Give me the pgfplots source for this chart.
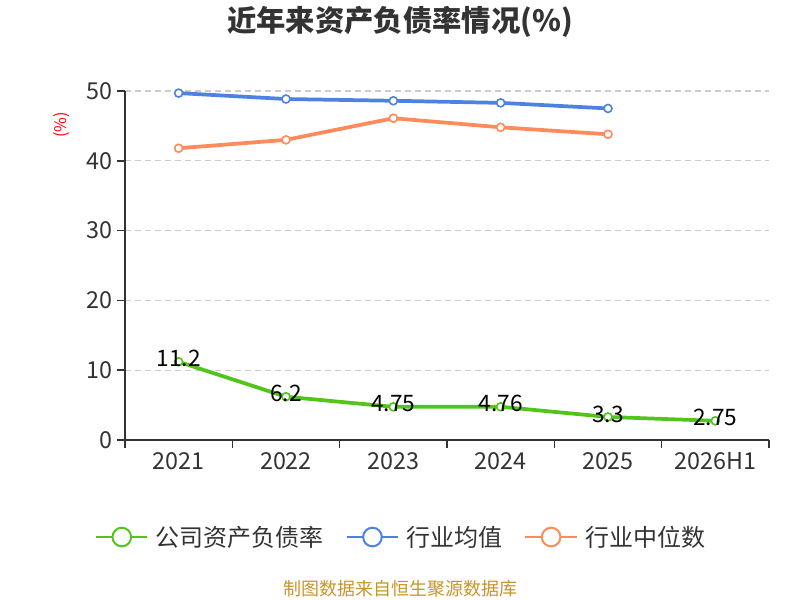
\documentclass[border=0pt]{standalone}
\usepackage{pgfplots}
\pgfplotsset{compat=1.18}
\usepackage{fontspec}
\setmainfont{Noto Sans CJK SC}
\definecolor{cgreen}{RGB}{82,196,26}
\definecolor{cblue}{RGB}{78,130,226}
\definecolor{corange}{RGB}{255,138,90}
\definecolor{tickc}{RGB}{51,51,51}
\definecolor{gridc}{RGB}{204,204,204}
\definecolor{srcc}{RGB}{200,148,40}
\begin{document}
\begin{tikzpicture}
\path[use as bounding box] (-93.75pt,-120pt) rectangle (506.25pt,330pt);
\begin{axis}[
  at={(0pt,0pt)}, anchor=south west,
  scale only axis, width=483pt, height=261.75pt,
  xmin=-0.5, xmax=5.5, ymin=0, ymax=50,
  clip=false,
  axis lines*=left,
  axis line style={tickc, line width=1.1pt, -},
  xtick={-0.5,0.5,...,5.5},
  x tick label as interval,
  xticklabels={2021,2022,2023,2024,2025,2026H1},
  ytick={0,10,...,50},
  tick align=outside,
  major tick length=6pt,
  tick style={tickc, line width=1.1pt},
  ymajorgrids,
  major grid style={gridc, dash pattern=on 4.5pt off 3pt, line width=0.9pt},
  ticklabel style={font=\fontsize{17.5}{21}\selectfont, text=tickc},
  /pgf/number format/assume math mode=true,
  legend columns=3,
  legend style={at={(-0.053,-0.278)}, anchor=west, draw=none, fill=none,
    font=\fontsize{18}{21.6}\selectfont, text=tickc,
    /tikz/every even column/.append style={column sep=16.5pt},
    /tikz/every odd column/.append style={column sep=5.5pt},
    nodes={inner sep=0pt}},
]
\addplot[cgreen, line width=2.8pt, mark=*, mark size=3pt,
  mark options={fill=white, draw=cgreen, line width=1.2pt},
  nodes near coords, point meta=explicit symbolic,
  every node near coord/.append style={font=\fontsize{17}{20}\selectfont, text=black, anchor=center, yshift=2.25pt},
  legend image code/.code={
    \draw[cgreen, line width=1.5pt] (0pt,0pt) -- (38.5pt,0pt);
    \draw[cgreen, line width=1.5pt, fill=white] (19.25pt,0pt) circle (7pt);}
] coordinates {(0,11.2)[11.2] (1,6.2)[6.2] (2,4.75)[4.75] (3,4.76)[4.76] (4,3.3)[3.3] (5,2.75)[2.75]};
\addlegendentry{公司资产负债率}
\addplot[cblue, line width=2.8pt, mark=*, mark size=3pt,
  mark options={fill=white, draw=cblue, line width=1.2pt},
  legend image code/.code={
    \draw[cblue, line width=1.5pt] (0pt,0pt) -- (38.5pt,0pt);
    \draw[cblue, line width=1.5pt, fill=white] (19.25pt,0pt) circle (7pt);}
] coordinates {(0,49.7) (1,48.85) (2,48.6) (3,48.3) (4,47.5)};
\addlegendentry{行业均值}
\addplot[corange, line width=2.8pt, mark=*, mark size=3pt,
  mark options={fill=white, draw=corange, line width=1.2pt},
  legend image code/.code={
    \draw[corange, line width=1.5pt] (0pt,0pt) -- (38.5pt,0pt);
    \draw[corange, line width=1.5pt, fill=white] (19.25pt,0pt) circle (7pt);}
] coordinates {(0,41.8) (1,43.0) (2,46.1) (3,44.8) (4,43.8)};
\addlegendentry{行业中位数}
\end{axis}
\node[font=\fontsize{22}{26}\selectfont\bfseries, text=tickc] at (206.25pt,313.9pt) {近年来资产负债率情况(\%)};
\node[font=\fontsize{12}{14}\selectfont, text=red, rotate=90] at (-47.25pt,236.25pt) {(\%)};
\node[font=\fontsize{13.5}{16}\selectfont, text=srcc] at (206.25pt,-111.75pt) {制图数据来自恒生聚源数据库};
\end{tikzpicture}
\end{document}
